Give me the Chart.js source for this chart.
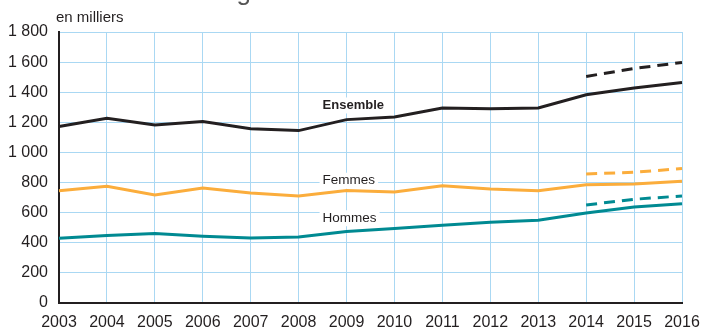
<!DOCTYPE html>
<html>
<head>
<meta charset="utf-8">
<script src="https://cdn.jsdelivr.net/npm/chart.js@4/dist/chart.umd.min.js"></script>
<style>
  html, body { margin: 0; padding: 0; background: #fff; }
  #wrap { width: 701px; height: 329px; }
</style>
</head>
<body>
<div id="wrap"><canvas id="lineChart" width="701" height="329"></canvas></div>
<script>
    var years = ['2003', '2004', '2005', '2006', '2007', '2008', '2009', '2010', '2011', '2012', '2013', '2014', '2015', '2016'];
    var ensemble = [1173, 1227, 1183, 1205, 1158, 1145, 1218, 1236, 1295, 1290, 1296, 1383, 1428, 1464];
    var femmes   = [745, 776, 718, 763, 730, 710, 747, 738, 779, 758, 745, 785, 791, 809];
    var hommes   = [430, 448, 462, 444, 432, 438, 475, 495, 516, 536, 549, 598, 637, 659];
    // second estimate, 2014-2016 only
    var ensembleBis = [null, null, null, null, null, null, null, null, null, null, null, 1505, 1558, 1598];
    var femmesBis   = [null, null, null, null, null, null, null, null, null, null, null, 857, 868, 893];
    var hommesBis   = [null, null, null, null, null, null, null, null, null, null, null, 651, 689, 711];
    var yTicks = [0, 200, 400, 600, 800, 1000, 1200, 1400, 1600, 1800];

    var FONT = "'Liberation Sans', Arial, sans-serif";
    var BLACK = '#231f20';
    var ORANGE = '#fbad3c';
    var TEAL = '#008a92';
    var GRID = '#aad8f3';

    // series names written next to the curves (x in category index, y in data units)
    var seriesLabels = [
        { text: 'Ensemble', x: 5.5, y: 1312, bold: true },
        { text: 'Femmes', x: 5.5, y: 812, bold: false },
        { text: 'Hommes', x: 5.5, y: 563, bold: false }
    ];

    function fmt(v) {
        return v >= 1000 ? Math.floor(v / 1000) + ' ' + String(v % 1000).padStart(3, '0') : String(v);
    }

    function line(data, color, dashed) {
        return {
            data: data,
            borderColor: color,
            borderWidth: 3,
            borderDash: dashed ? [11, 7] : [],
            pointRadius: 0,
            tension: 0,
            fill: false,
            spanGaps: false
        };
    }

    var textPlugin = {
        id: 'texts',
        afterDatasetsDraw: function(chart) {
            var ctx = chart.ctx;
            var xs = chart.scales.x, ys = chart.scales.y;
            ctx.save();
            ctx.textBaseline = 'middle';
            ctx.textAlign = 'left';
            seriesLabels.forEach(function(l) {
                ctx.font = (l.bold ? 'bold 13px ' : '13.5px ') + FONT;
                var px = xs.getPixelForValue(l.x);
                var py = ys.getPixelForValue(l.y);
                var w = ctx.measureText(l.text).width;
                ctx.fillStyle = '#fff';
                ctx.fillRect(px - 3, py - 8, w + 6, 16);
                ctx.fillStyle = BLACK;
                ctx.fillText(l.text, px, py);
            });
            // unit and (cut) heading above the plot
            ctx.textBaseline = 'alphabetic';
            ctx.font = '15px ' + FONT;
            ctx.fillStyle = BLACK;
            ctx.fillText('en milliers', 56, 22);
            ctx.font = '26px ' + FONT;
            ctx.fillStyle = '#555';
            ctx.fillText('Salariés selon l\u2019âge', 40, 0);
            ctx.restore();
        }
    };

    var ctx = document.getElementById('lineChart').getContext('2d');
    var lineChart = new Chart(ctx, {
        type: 'line',
        data: {
            labels: years,
            datasets: [
                line(hommes, TEAL, false),
                line(hommesBis, TEAL, true),
                line(femmes, ORANGE, false),
                line(femmesBis, ORANGE, true),
                line(ensemble, BLACK, false),
                line(ensembleBis, BLACK, true)
            ]
        },
        options: {
            responsive: false,
            animation: false,
            devicePixelRatio: 1,
            layout: { padding: { left: 0, top: 32, right: 19, bottom: 0 } },
            plugins: {
                legend: { display: false },
                title: { display: false },
                tooltip: { enabled: false }
            },
            scales: {
                x: {
                    offset: false,
                    grid: { color: GRID, lineWidth: 1, drawTicks: false },
                    border: { color: BLACK, width: 2 },
                    ticks: {
                        color: BLACK,
                        font: { family: FONT, size: 16 },
                        padding: 10,
                        maxRotation: 0,
                        autoSkip: false
                    },
                    afterFit: function(scale) {
                        scale.height = 26;
                        // layout padding already leaves room for the end labels
                        scale.paddingLeft = 0;
                        scale.paddingRight = 0;
                    }
                },
                y: {
                    min: 0,
                    max: 1800,
                    grid: { color: GRID, lineWidth: 1, drawTicks: false },
                    border: { color: BLACK, width: 2 },
                    afterBuildTicks: function(scale) {
                        scale.ticks = yTicks.map(function(v) { return { value: v }; });
                    },
                    ticks: {
                        color: BLACK,
                        font: { family: FONT, size: 16 },
                        padding: 11,
                        callback: function(v) { return fmt(v); }
                    },
                    afterFit: function(scale) { scale.width = 59; }
                }
            }
        },
        plugins: [textPlugin]
    });
</script>
</body>
</html>
